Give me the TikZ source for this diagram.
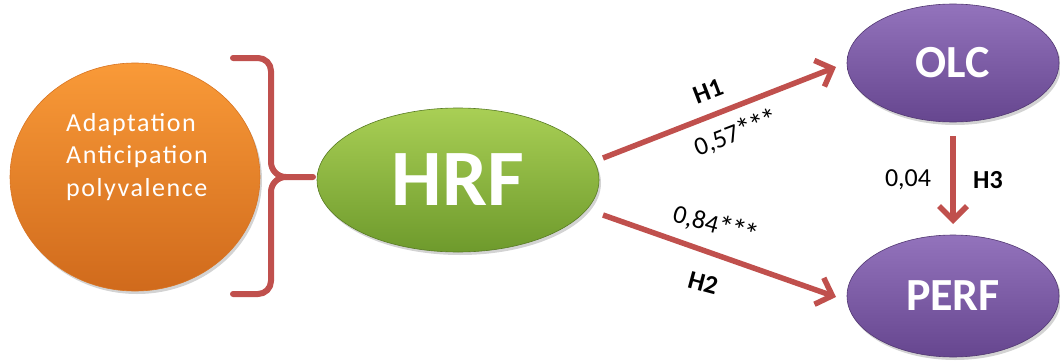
\documentclass[tikz,border=0pt]{standalone}
\usepackage{fontspec}
\setmainfont{Carlito}
\usetikzlibrary{arrows.meta,shadows,shapes.geometric}
\definecolor{linkred}{HTML}{C0504D}
\definecolor{orangetop}{HTML}{F99A38}
\definecolor{orangebot}{HTML}{D06A1C}
\definecolor{greentop}{HTML}{A9CF55}
\definecolor{greenbot}{HTML}{6E9A2C}
\definecolor{purpletop}{HTML}{9373BC}
\definecolor{purplebot}{HTML}{66468F}
% significance marks, set a little larger than the digits and packed tight
\newcommand\sigstars{\raisebox{-2pt}{\fontsize{31}{31}\selectfont *\kern-2.5pt*\kern-2.5pt*}}
\tikzset{
  blob/.style={ellipse, inner sep=0pt, text=white,
    drop shadow={shadow xshift=2pt, shadow yshift=-3pt, opacity=0.35}},
  orangeblob/.style={blob, top color=orangetop, bottom color=orangebot,
    draw=orangebot!80!orangetop, line width=0.6pt},
  greenblob/.style={blob, top color=greentop, bottom color=greenbot,
    draw=greenbot!80!black, line width=0.6pt},
  purpleblob/.style={blob, top color=purpletop, bottom color=purplebot,
    draw=purplebot!80!black, line width=0.6pt},
  link/.style={draw=linkred, line width=5.5pt,
    -{Straight Barb[length=14pt, width=28pt, line width=5.5pt]}},
  pathlabel/.style={font=\fontsize{26}{28}\selectfont, text=black, inner sep=0pt},
  boldlabel/.style={pathlabel, font=\fontsize{26}{28}\selectfont\bfseries},
}
\begin{document}
\begin{tikzpicture}[x=1pt, y=-1pt]
  \useasboundingbox (0,0) rectangle (1060,364);

  % antecedent dimensions
  \node[orangeblob, minimum width=250pt, minimum height=228pt] (dims) at (135,177) {};
  \node[anchor=north west, align=left, text=white, inner sep=0pt,
        font=\fontsize{26}{32.5}\selectfont\addfontfeature{LetterSpace=6}] (dimtext) at (66,113)
    {Adaptation\\Anticipation\\polyvalence};

  % grouping bracket
  \coordinate (brtop) at (233,58);
  \coordinate (brbot) at (233,294);
  \coordinate (brtip) at (313,177);
  \draw[linkred, line width=6pt, line cap=round, line join=round]
    (brtop) -- (258,58) to[out=0, in=90] (271,71) -- (271,162)
    to[out=-90, in=180] (286,177) -- (brtip);
  \draw[linkred, line width=6pt, line cap=round, line join=round]
    (brbot) -- (258,294) to[out=0, in=-90] (271,281) -- (271,192)
    to[out=90, in=180] (286,177);

  % constructs
  \node[greenblob, minimum width=282pt, minimum height=144pt,
        font=\fontsize{80}{80}\selectfont\bfseries] (hrf) at (458,180) {HRF};
  \node[purpleblob, minimum width=212pt, minimum height=118pt,
        font=\fontsize{46}{46}\selectfont\bfseries] (olc) at (953,63) {OLC};
  \node[purpleblob, minimum width=212pt, minimum height=122pt,
        font=\fontsize{46}{46}\selectfont\bfseries] (perf) at (953,296) {PERF};

  % hypothesised paths
  \coordinate (h1s) at (603,158);
  \coordinate (h1e) at (836,67);
  \coordinate (h2s) at (603,215);
  \coordinate (h2e) at (836,297);
  \draw[link] (h1s) -- (h1e);
  \draw[link] (h2s) -- (h2e);
  \coordinate (h3s) at (953,136);
  \coordinate (h3e) at (953,224);
  \draw[link] (h3s) -- (h3e);

  % path labels
  \node[boldlabel, rotate=21] (lh1) at (708,91) {H1};
  \node[pathlabel, rotate=21] (c1) at (736,133) {0,57\sigstars};
  \node[pathlabel, rotate=-15] (c2) at (716,225) {0,84\sigstars};
  \node[boldlabel, rotate=-15] (lh2) at (703,283) {H2};
  \node[pathlabel] (c3) at (908,180) {0,04};
  \node[boldlabel] (lh3) at (988,180) {H3};
\end{tikzpicture}
\end{document}
